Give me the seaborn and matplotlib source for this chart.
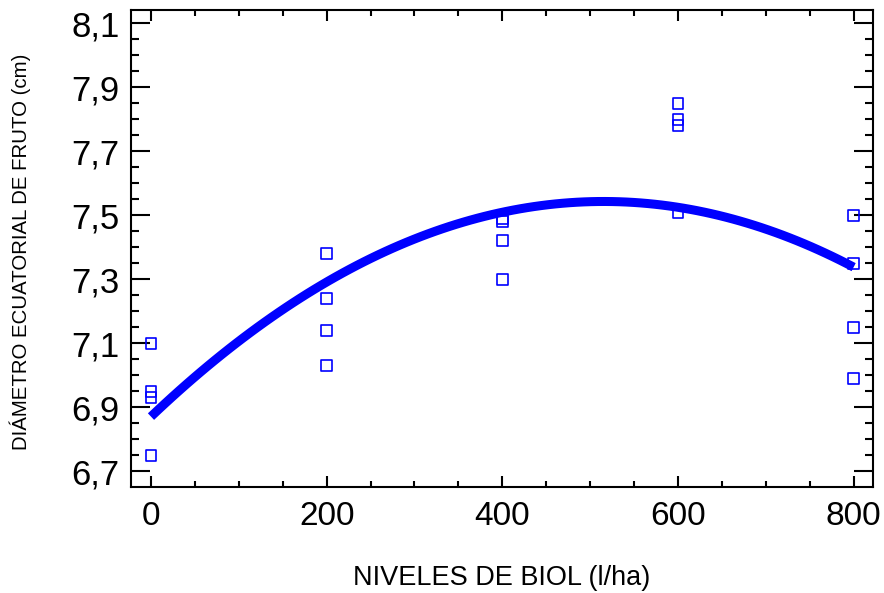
import numpy as np
import pandas as pd
import matplotlib
matplotlib.use("Agg")
import matplotlib.pyplot as plt
import seaborn as sns
from matplotlib.ticker import MultipleLocator, FuncFormatter
from matplotlib import font_manager

# Data
niveles = [0, 0, 0, 0,
           200, 200, 200, 200,
           400, 400, 400, 400,
           600, 600, 600, 600,
           800, 800, 800, 800]
diametro = [7.10, 6.95, 6.93, 6.75,
            7.38, 7.24, 7.14, 7.03,
            7.49, 7.48, 7.42, 7.30,
            7.85, 7.80, 7.78, 7.51,
            7.50, 7.35, 7.15, 6.99]
x_label = "NIVELES DE BIOL (l/ha)"
y_label = "DIÁMETRO ECUATORIAL DE FRUTO (cm)"

df = pd.DataFrame({"x": niveles, "y": diametro})

sns.set_theme(style="ticks")
names = {f.name for f in font_manager.fontManager.ttflist}
base = "Liberation Sans" if "Liberation Sans" in names else "DejaVu Sans"
narrow = "Liberation Sans Narrow" if "Liberation Sans Narrow" in names else base
plt.rcParams["font.family"] = [base, "DejaVu Sans"]

fig = plt.figure(figsize=(8.84, 5.93), dpi=100)
ax = fig.add_axes([130.7 / 884, 1 - 486.7 / 593, (872.7 - 130.7) / 884, (486.7 - 9.5) / 593])

sns.regplot(data=df, x="x", y="y", order=2, ci=None, ax=ax, marker="s",
            scatter_kws=dict(s=62, facecolors="none", alpha=1,
                             edgecolors="#0000ff", linewidths=1.2),
            line_kws=dict(color="#0000ff", linewidth=6.5, alpha=1,
                          solid_capstyle="butt"),
            color="#0000ff")

ax.set_xlim(-23.1, 821.7)
ax.set_ylim(6.652, 8.143)
ax.xaxis.set_major_locator(MultipleLocator(200))
ax.xaxis.set_minor_locator(MultipleLocator(50))
ax.set_yticks(np.arange(6.7, 8.15, 0.2))
ax.yaxis.set_minor_locator(MultipleLocator(0.05))
ax.yaxis.set_major_formatter(FuncFormatter(lambda v, p: f"{v:.1f}".replace(".", ",")))

ax.tick_params(axis="both", which="both", direction="in", top=True, right=True, color="black")
ax.tick_params(axis="y", which="major", length=14, width=1.5, labelsize=25, pad=8)
ax.tick_params(axis="y", which="minor", length=6, width=1.5)
ax.tick_params(axis="x", which="major", length=8, width=1.5, labelsize=24, pad=10)
ax.tick_params(axis="x", which="minor", length=4, width=1.5)
for lab in ax.get_yticklabels() + ax.get_xticklabels():
    lab.set_color("black")
for s in ax.spines.values():
    s.set_linewidth(1.5)
    s.set_color("black")

ax.set_xlabel("")
ax.set_ylabel("")
fig.text(502 / 884, 1 - 578 / 593, x_label, ha="center", va="center",
         fontsize=19.5, family=[narrow, base], color="black")
fig.text(20 / 884, 1 - 252 / 593, y_label, ha="center", va="center",
         rotation=90, fontsize=14.7, color="black")

fig.savefig("out.png", dpi=100, facecolor="white")
